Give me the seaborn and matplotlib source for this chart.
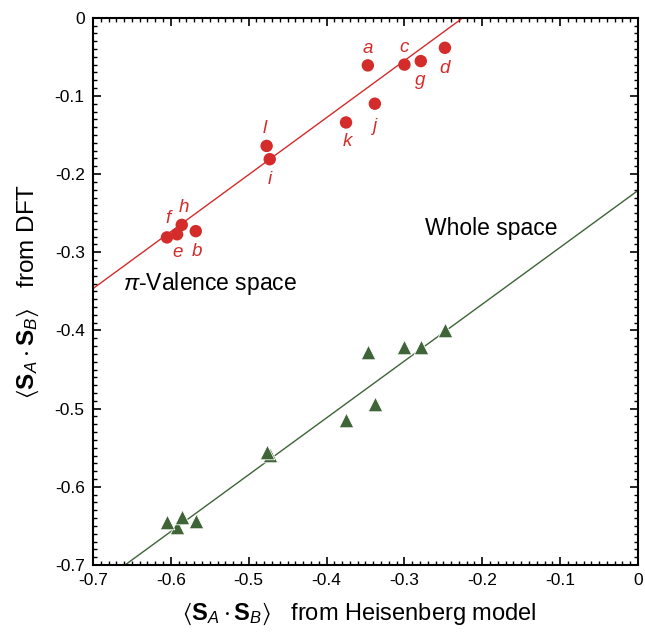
import numpy as np
import pandas as pd
import seaborn as sns
import matplotlib.pyplot as plt
from matplotlib.ticker import MultipleLocator, FuncFormatter

# molecule labels and <S_A.S_B> values
labels = ["a", "b", "c", "d", "e", "f", "g", "h", "i", "j", "k", "l"]
heis = [-0.347, -0.568, -0.300, -0.248, -0.592, -0.605, -0.279, -0.586, -0.473, -0.338, -0.375, -0.477]
dft_pi = [-0.061, -0.273, -0.060, -0.0385, -0.277, -0.281, -0.0555, -0.265, -0.181, -0.110, -0.134, -0.164]
dft_whole = [-0.427, -0.644, -0.421, -0.3995, -0.651, -0.645, -0.421, -0.638, -0.559, -0.494, -0.515, -0.556]

# fitted lines (slope, intercept) as drawn in the figure
fit_pi = (0.729, 0.1638)
fit_whole = (0.727, -0.221)

# label offsets in pixels (dx, dy)
lab_off = {"a": (0, 17), "b": (1, -20), "c": (0, 17), "d": (0, -21), "e": (0, -18), "f": (1, 19),
           "g": (-1, -19), "h": (2, 17), "i": (0, -20), "j": (-1, -23), "k": (1, -19), "l": (-2, 17)}

red = "#d42b2b"
green = "#3e6438"

sns.set_style("ticks")
plt.rcParams["font.family"] = ["Liberation Sans", "DejaVu Sans"]
plt.rcParams["mathtext.fontset"] = "custom"
plt.rcParams["mathtext.rm"] = "Liberation Sans"
plt.rcParams["mathtext.it"] = "Liberation Sans:italic"
plt.rcParams["mathtext.bf"] = "Liberation Sans:bold"
plt.rcParams["mathtext.fallback"] = "stixsans"
plt.rcParams["axes.unicode_minus"] = False
for k in ["text.color", "axes.labelcolor", "xtick.color", "ytick.color", "xtick.labelcolor", "ytick.labelcolor"]:
    plt.rcParams[k] = "black"

df = pd.DataFrame({"label": labels, "heis": heis, "pi": dft_pi, "whole": dft_whole})

fig = plt.figure(figsize=(6.45, 6.32), dpi=100)
ax = fig.add_axes([93 / 645, 1 - 565 / 632, 545 / 645, 547.3 / 632])
ax.set_xlim(-0.7, 0)
ax.set_ylim(-0.7, 0)

ax.axline((0, fit_pi[1]), slope=fit_pi[0], color=red, lw=1.0, zorder=1)
ax.axline((0, fit_whole[1]), slope=fit_whole[0], color=green, lw=1.0, zorder=1)

sns.scatterplot(data=df, x="heis", y="pi", color=red, marker="o", s=80, edgecolor="none", ax=ax, zorder=3)
sns.scatterplot(data=df, x="heis", y="whole", color=green, marker="^", s=110, edgecolor="white",
                linewidth=0.6, ax=ax, zorder=3)

for lab, x, y in zip(labels, heis, dft_pi):
    dx, dy = lab_off[lab]
    ax.annotate(lab, (x, y), xytext=(dx * 0.72, dy * 0.72), textcoords="offset points",
                ha="center", va="center", color=red, fontsize=13.5, style="italic")

ax.text(-0.661, -0.340, r"$\pi$-Valence space", fontsize=16.5, ha="left", va="center")
ax.text(-0.189, -0.2696, "Whole space", fontsize=16.5, ha="center", va="center")

ax.xaxis.set_major_locator(MultipleLocator(0.1))
ax.yaxis.set_major_locator(MultipleLocator(0.1))
ax.xaxis.set_minor_locator(MultipleLocator(0.01))
ax.yaxis.set_minor_locator(MultipleLocator(0.01))
fmt = FuncFormatter(lambda v, p: "0" if abs(v) < 1e-9 else f"{v:.1f}")
ax.xaxis.set_major_formatter(fmt)
ax.yaxis.set_major_formatter(fmt)
ax.tick_params(which="both", direction="in", top=True, right=True, color="black")
ax.tick_params(which="major", length=6, width=1.2, labelsize=12.5, pad=6)
ax.tick_params(which="minor", length=3, width=1.0)
for sp in ax.spines.values():
    sp.set_linewidth(1.5)
    sp.set_color("black")

ax.set_xlabel(r"$\langle\mathbf{S}_A\cdot\mathbf{S}_B\rangle$   from Heisenberg model", fontsize=17)
ax.set_ylabel(r"$\langle\mathbf{S}_A\cdot\mathbf{S}_B\rangle$   from DFT", fontsize=17.5)
ax.xaxis.set_label_coords(0.488, -0.065)
ax.yaxis.set_label_coords(-0.095, 0.5)

fig.savefig("out.png", dpi=100)
